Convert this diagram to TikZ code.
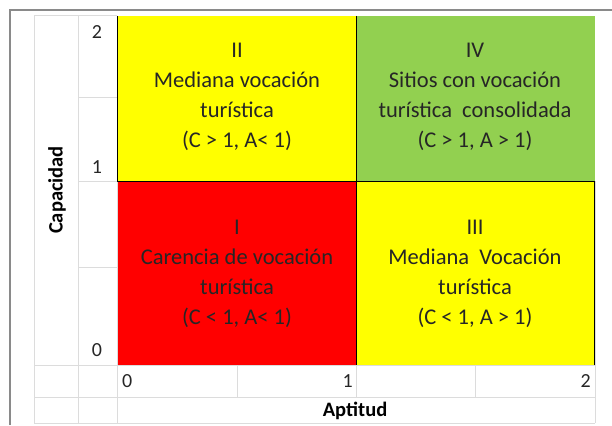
\documentclass[tikz,border=0pt]{standalone}
\usepackage{fontspec}
\setmainfont{Carlito}
\definecolor{gridgray}{HTML}{DCDCDC}
\definecolor{framegray}{HTML}{8A8A8A}
\definecolor{quadyellow}{HTML}{FFFF00}
\definecolor{quadred}{HTML}{FF0000}
\definecolor{quadgreen}{HTML}{92D050}
\definecolor{inkgray}{HTML}{262626}
\tikzset{
  quadtext/.style={align=center, text=inkgray, font=\fontsize{22.5}{30}\selectfont},
  ticklabel/.style={text=inkgray, font=\fontsize{20}{22}\selectfont, inner sep=0pt},
  axislabel/.style={text=black, font=\fontsize{20.5}{22}\selectfont\bfseries, inner sep=0pt},
  gridline/.style={gridgray, line width=1pt}
}

\begin{document}
\begin{tikzpicture}[x=1pt,y=-1pt]
\useasboundingbox (0,0) rectangle (612,425);
% quadrants
\fill[quadyellow] (117,16) rectangle (356,181);
\fill[quadgreen] (356,16) rectangle (595,181);
\fill[quadred] (117,181) rectangle (356,365);
\fill[quadyellow] (356,181) rectangle (594,365);
% spreadsheet grid
\foreach \x in {34, 78, 117} {
 \draw[gridline] (\x,16) -- (\x,423);
}
\foreach \y in {365, 397, 423} {
 \draw[gridline] (34,\y) -- (595,\y);
}
\draw[gridline] (34,16) -- (117,16);
\foreach \y in {98, 181, 267} {
 \draw[gridline] (78,\y) -- (117,\y);
}
\foreach \x in {237, 356, 475} {
 \draw[gridline] (\x,365) -- (\x,397);
}
\draw[gridline] (595,181) -- (595,423);
% quadrant borders
\draw[black, line width=0.9pt] (117,16) -- (117,181) -- (594,181);
\draw[black, line width=0.9pt] (356,16) -- (356,365);
\draw[black, line width=0.9pt] (594,181) -- (594,365);
% frame
\draw[framegray, line width=1.5pt] (10,425) -- (10,10) -- (612,10);
% quadrant texts
\node[quadtext] (quadII) at (237,97) {II\\Mediana vocación\\turística\\(C > 1, A< 1)};
\node[quadtext] (quadIV) at (475,97) {IV\\Sitios con vocación\\turística\ \ consolidada\\(C > 1, A > 1)};
\node[quadtext] (quadI) at (237,274) {I\\Carencia de vocación\\turística\\(C < 1, A< 1)};
\node[quadtext] (quadIII) at (475,274) {III\\Mediana\ \ Vocación\\turística\\(C < 1, A > 1)};
% axis values
\node[ticklabel] (capTwo) at (97,32) {2};
\node[ticklabel] (capOne) at (97,167) {1};
\node[ticklabel] (capZero) at (97,350) {0};
\node[ticklabel, anchor=west] (aptZero) at (122,381) {0};
\node[ticklabel, anchor=east] (aptOne) at (353,381) {1};
\node[ticklabel, anchor=east] (aptTwo) at (591,381) {2};
% axis names
\node[axislabel, rotate=90] (capacidad) at (57,190) {Capacidad};
\node[axislabel] (aptitud) at (355,411) {Aptitud};
\end{tikzpicture}
\end{document}
